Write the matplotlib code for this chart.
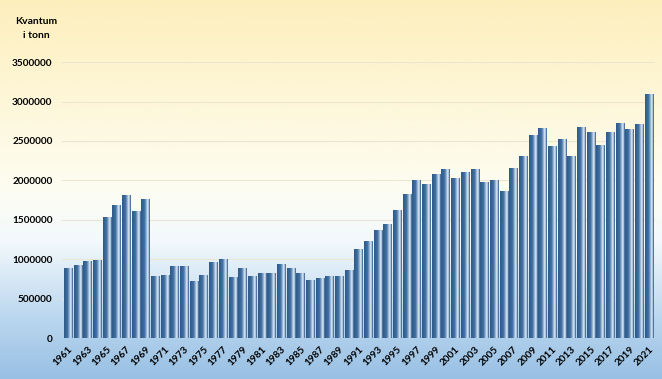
import numpy as np
import matplotlib
matplotlib.use('Agg')
from matplotlib import pyplot as plt
from matplotlib.colors import LinearSegmentedColormap

plt.rcParams['font.family'] = ['Lato', 'DejaVu Sans']

years = list(range(1961, 2022))
kvantum = [890000, 930000, 980000, 995000, 1540000, 1690000, 1810000, 1615000, 1770000, 790000,
           800000, 910000, 910000, 720000, 795000, 960000, 1000000, 780000, 885000, 790000,
           825000, 825000, 935000, 890000, 830000, 740000, 760000, 790000, 790000, 860000,
           1125000, 1235000, 1375000, 1450000, 1630000, 1830000, 2010000, 1950000, 2080000, 2140000,
           2030000, 2110000, 2150000, 1985000, 2000000, 1860000, 2160000, 2310000, 2580000, 2670000,
           2440000, 2530000, 2310000, 2680000, 2620000, 2450000, 2620000, 2730000, 2650000, 2710000,
           3090000]
yticks = [0, 500000, 1000000, 1500000, 2000000, 2500000, 3000000, 3500000]

fig = plt.figure(figsize=(6.62, 3.79), dpi=100)

# background gradient: yellow top, white middle, blue bottom
bg = fig.add_axes([0, 0, 1, 1], zorder=-10)
bg_cmap = LinearSegmentedColormap.from_list('bg', [(0.0, '#98c0e4'), (0.15, '#b8d5ee'),
                                                   (0.36, '#f2f8fc'), (0.5, '#fdfdf2'),
                                                   (1.0, '#fdefbc')])
bg.imshow(np.linspace(0, 1, 256).reshape(-1, 1), aspect='auto', cmap=bg_cmap,
          origin='lower', extent=[0, 1, 0, 1])
bg.axis('off')

ax = fig.add_axes([0.094, 0.108, 0.895, 0.728])
ax.set_facecolor('none')

bar_cmap = LinearSegmentedColormap.from_list('bar', [(0.0, '#2d5a89'), (0.4, '#416f9f'),
                                                     (0.62, '#9cb9d8'), (0.78, '#e6eff8'),
                                                     (0.9, '#7b9dc2'), (1.0, '#285080')])
grad = np.linspace(0, 1, 64).reshape(1, -1)
bars = ax.bar(years, kvantum, width=0.85, color='#416f9f', zorder=2)
for b in bars:
    x0 = b.get_x()
    im = ax.imshow(grad, aspect='auto', cmap=bar_cmap,
                   extent=[x0, x0 + b.get_width(), 0, b.get_height()], zorder=3)
    im.set_clip_path(b)

ax.set_xlim(years[0] - 0.6, years[-1] + 0.6)
ax.set_ylim(0, 3500000)
ax.set_yticks(yticks)
ax.set_yticklabels([str(v) for v in yticks], fontsize=7.2, fontweight='bold')
ax.set_xticks(years[::2])
ax.set_xticklabels([str(y) for y in years[::2]], rotation=45, fontsize=7.2,
                   fontweight='bold', ha='right', rotation_mode='anchor')
ax.tick_params(axis='y', length=0, pad=7)
ax.tick_params(axis='x', length=0, pad=5)
ax.grid(axis='y', color='#ebe6d2', linewidth=0.8, zorder=0)
ax.set_axisbelow(True)
for s in ax.spines.values():
    s.set_visible(False)

fig.text(0.055, 0.925, 'Kvantum\ni tonn', ha='center', va='center', fontsize=7.5,
         fontweight='bold', linespacing=1.7)

fig.savefig('out.png', dpi=100)
